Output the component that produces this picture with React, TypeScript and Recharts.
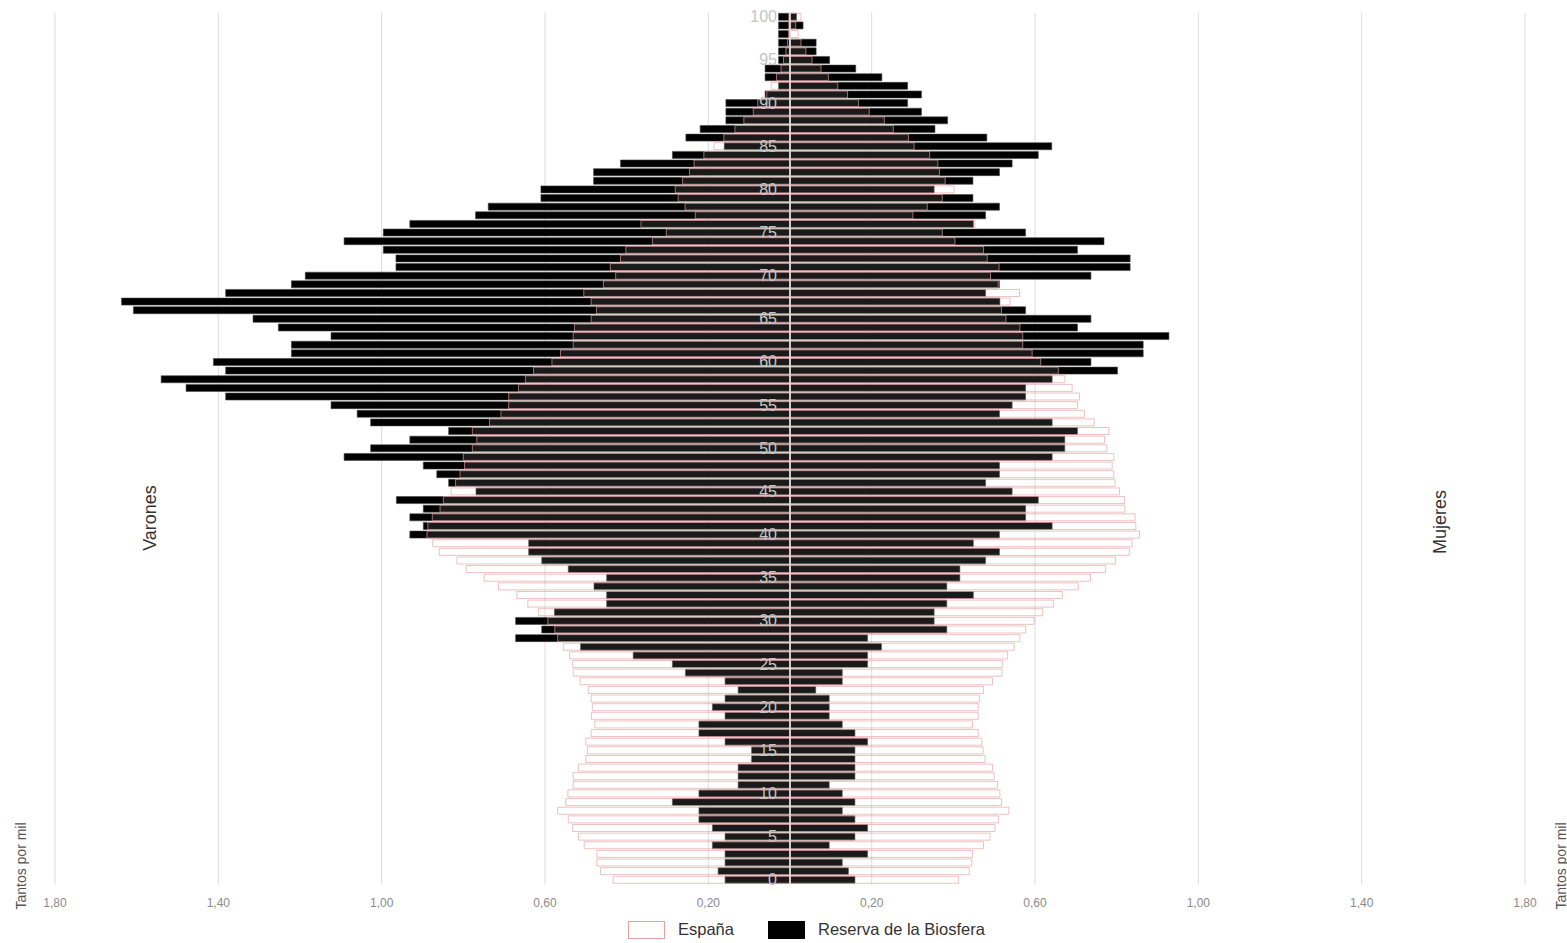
import React from "react";
import { BarChart, Bar, XAxis, YAxis, CartesianGrid, ReferenceLine, LabelList } from "recharts";

// Ages 0..100 (categories)
const AGES: number[] = Array.from({ length: 101 }, (_, i) => i);

// Tantos por mil, index = age
const spainMen: number[] = [
  0.433, 0.464, 0.473, 0.473, 0.504, 0.518, 0.533, 0.543, 0.569, 0.549,
  0.544, 0.531, 0.531, 0.518, 0.5, 0.496, 0.5, 0.487, 0.478, 0.486,
  0.484, 0.487, 0.494, 0.514, 0.531, 0.532, 0.54, 0.555, 0.569, 0.576,
  0.593, 0.616, 0.642, 0.669, 0.714, 0.749, 0.793, 0.816, 0.859, 0.875,
  0.889, 0.887, 0.876, 0.857, 0.849, 0.83, 0.819, 0.808, 0.797, 0.8,
  0.778, 0.767, 0.778, 0.736, 0.708, 0.689, 0.689, 0.665, 0.648, 0.628,
  0.583, 0.562, 0.531, 0.531, 0.528, 0.487, 0.474, 0.487, 0.505, 0.457,
  0.427, 0.44, 0.415, 0.402, 0.337, 0.303, 0.365, 0.232, 0.257, 0.274,
  0.281, 0.263, 0.246, 0.235, 0.211, 0.186, 0.162, 0.135, 0.113, 0.09,
  0.079, 0.057, 0.046, 0.033, 0.022, 0.016, 0.01, 0.006, 0.004, 0.003,
  0.003,
];

const spainWomen: number[] = [
  0.413, 0.439, 0.445, 0.447, 0.474, 0.49, 0.502, 0.511, 0.536, 0.518,
  0.514, 0.508, 0.5, 0.496, 0.478, 0.473, 0.47, 0.461, 0.447, 0.461,
  0.461, 0.464, 0.474, 0.496, 0.519, 0.521, 0.533, 0.549, 0.563, 0.577,
  0.598, 0.619, 0.645, 0.667, 0.706, 0.736, 0.773, 0.797, 0.831, 0.838,
  0.856, 0.847, 0.845, 0.82, 0.819, 0.807, 0.796, 0.793, 0.789, 0.793,
  0.776, 0.77, 0.781, 0.745, 0.721, 0.704, 0.709, 0.691, 0.673, 0.657,
  0.614, 0.593, 0.57, 0.57, 0.563, 0.529, 0.518, 0.539, 0.562, 0.51,
  0.491, 0.512, 0.483, 0.474, 0.404, 0.373, 0.453, 0.301, 0.336, 0.373,
  0.402, 0.38, 0.366, 0.362, 0.342, 0.304, 0.29, 0.253, 0.231, 0.194,
  0.168, 0.141, 0.117, 0.094, 0.076, 0.054, 0.039, 0.027, 0.02, 0.014,
  0.027,
];

const reservaMen: number[] = [
  0.159, 0.176, 0.159, 0.159, 0.19, 0.159, 0.19, 0.223, 0.223, 0.288,
  0.223, 0.127, 0.127, 0.127, 0.094, 0.094, 0.159, 0.223, 0.223, 0.159,
  0.19, 0.159, 0.127, 0.159, 0.256, 0.288, 0.384, 0.513, 0.672, 0.608,
  0.672, 0.577, 0.449, 0.449, 0.48, 0.449, 0.543, 0.608, 0.64, 0.64,
  0.931, 0.898, 0.931, 0.898, 0.964, 0.769, 0.836, 0.865, 0.898, 1.092,
  1.027, 0.931, 0.836, 1.027, 1.06, 1.124, 1.382, 1.479, 1.54, 1.382,
  1.412, 1.221, 1.221, 1.124, 1.253, 1.315, 1.608, 1.637, 1.382, 1.221,
  1.187, 0.965, 0.965, 0.996, 1.092, 0.996, 0.931, 0.77, 0.739, 0.61,
  0.61, 0.481, 0.481, 0.415, 0.288, 0.161, 0.255, 0.22, 0.157, 0.157,
  0.157, 0.061, 0.028, 0.061, 0.061, 0.028, 0.028, 0.028, 0.028, 0.028,
  0.028,
];

const reservaWomen: number[] = [
  0.159, 0.143, 0.128, 0.19, 0.096, 0.159, 0.19, 0.159, 0.128, 0.159,
  0.128, 0.096, 0.159, 0.159, 0.159, 0.159, 0.19, 0.159, 0.128, 0.096,
  0.096, 0.096, 0.063, 0.128, 0.128, 0.19, 0.19, 0.224, 0.19, 0.384,
  0.353, 0.353, 0.384, 0.449, 0.384, 0.416, 0.416, 0.479, 0.513, 0.449,
  0.513, 0.642, 0.577, 0.577, 0.608, 0.544, 0.479, 0.513, 0.513, 0.642,
  0.673, 0.673, 0.704, 0.642, 0.513, 0.544, 0.577, 0.577, 0.642, 0.802,
  0.737, 0.865, 0.865, 0.928, 0.704, 0.737, 0.577, 0.514, 0.479, 0.513,
  0.737, 0.833, 0.833, 0.704, 0.769, 0.577, 0.449, 0.479, 0.513, 0.448,
  0.353, 0.448, 0.513, 0.544, 0.608, 0.641, 0.482, 0.355, 0.386, 0.322,
  0.288, 0.322, 0.288, 0.225, 0.161, 0.097, 0.064, 0.064, 0, 0.032,
  0.016,
];

const X_TICKS: number[] = [-1.8, -1.4, -1.0, -0.6, -0.2, 0.2, 0.6, 1.0, 1.4, 1.8];

const data = AGES.map((age, i) => ({
  age,
  spainM: -spainMen[i],
  spainF: spainWomen[i],
  resM: -reservaMen[i],
  resF: reservaWomen[i],
}));

const W = 1567;
const H = 943;
const MARGIN = { top: 12.7, right: 42, left: 55, bottom: 28.7 };
const X_AXIS_H = 30;
const CENTER_X = MARGIN.left + (W - MARGIN.left - MARGIN.right) / 2;
const FONT = "'Liberation Sans', Arial, sans-serif";
const PINK = "#e6a0a0";

const fmt = (v: number) => Math.abs(v).toFixed(2).replace(".", ",");

const AgeLabel = (props: any) => {
  const { y, height, value } = props;
  if (value == null || Number(value) % 5 !== 0) return null;
  return (
    <text
      x={CENTER_X - 13}
      y={Number(y) + Number(height) / 2}
      textAnchor="end"
      dominantBaseline="central"
      fontSize={16}
      fontFamily={FONT}
      fill="#c4c4c4"
    >
      {value}
    </text>
  );
};

const rot = (x: number, y: number, size: number, color: string, text: string) => (
  <div
    style={{
      position: "absolute",
      left: x,
      top: y,
      transform: "translate(-50%, -50%) rotate(-90deg)",
      fontFamily: FONT,
      fontSize: size,
      color,
      whiteSpace: "nowrap",
      lineHeight: 1,
    }}
  >
    {text}
  </div>
);

export default function App() {
  return (
    <div style={{ position: "absolute", left: 0, top: 0, width: W, height: H, background: "#fff" }}>
      <BarChart
        width={W}
        height={H}
        data={data}
        layout="vertical"
        margin={MARGIN}
        stackOffset="sign"
        barCategoryGap={0.6}
      >
        <CartesianGrid vertical horizontal={false} stroke="#dcdcdc" yAxisId="a" />
        <XAxis
          type="number"
          domain={[-1.8, 1.8]}
          ticks={X_TICKS}
          tickFormatter={fmt}
          axisLine={false}
          tickLine={false}
          height={X_AXIS_H}
          tickMargin={8}
          tick={{ fontSize: 12, fill: "#8a8a8a", fontFamily: FONT }}
          allowDataOverflow
        />
        <YAxis
          yAxisId="a"
          type="category"
          dataKey="age"
          reversed
          width={0}
          axisLine={false}
          tickLine={false}
          tick={false}
        />
        <YAxis yAxisId="b" type="category" dataKey="age" reversed hide />
        <Bar yAxisId="a" dataKey="resM" stackId="res" fill="#000" stroke="#444" strokeWidth={0.6} isAnimationActive={false} />
        <Bar yAxisId="a" dataKey="resF" stackId="res" fill="#000" stroke="#444" strokeWidth={0.6} isAnimationActive={false} />
        <Bar yAxisId="b" dataKey="spainM" stackId="sp" fill="#fff" fillOpacity={0.1} stroke={PINK} strokeOpacity={0.65} strokeWidth={1} isAnimationActive={false} />
        <Bar yAxisId="b" dataKey="spainF" stackId="sp" fill="#fff" fillOpacity={0.1} stroke={PINK} strokeOpacity={0.65} strokeWidth={1} isAnimationActive={false}>
          <LabelList dataKey="age" content={<AgeLabel />} />
        </Bar>
        <ReferenceLine x={0} yAxisId="a" stroke="#e2e2e2" strokeWidth={1.6} />
      </BarChart>

      {rot(150, 518, 18, "#333", "Varones")}
      {rot(1440, 522, 18, "#333", "Mujeres")}
      {rot(21, 866, 14, "#555", "Tantos por mil")}
      {rot(1561, 866, 14, "#555", "Tantos por mil")}

      <div
        style={{
          position: "absolute",
          left: 628,
          top: 920,
          display: "flex",
          alignItems: "center",
          fontFamily: FONT,
          fontSize: 16.5,
          color: "#333",
        }}
      >
        <span style={{ width: 35, height: 16, border: `1px solid ${PINK}`, background: "#fff", display: "inline-block" }} />
        <span style={{ marginLeft: 13, marginRight: 34 }}>España</span>
        <span style={{ width: 37, height: 18, background: "#000", display: "inline-block" }} />
        <span style={{ marginLeft: 13 }}>Reserva de la Biosfera</span>
      </div>
    </div>
  );
}
